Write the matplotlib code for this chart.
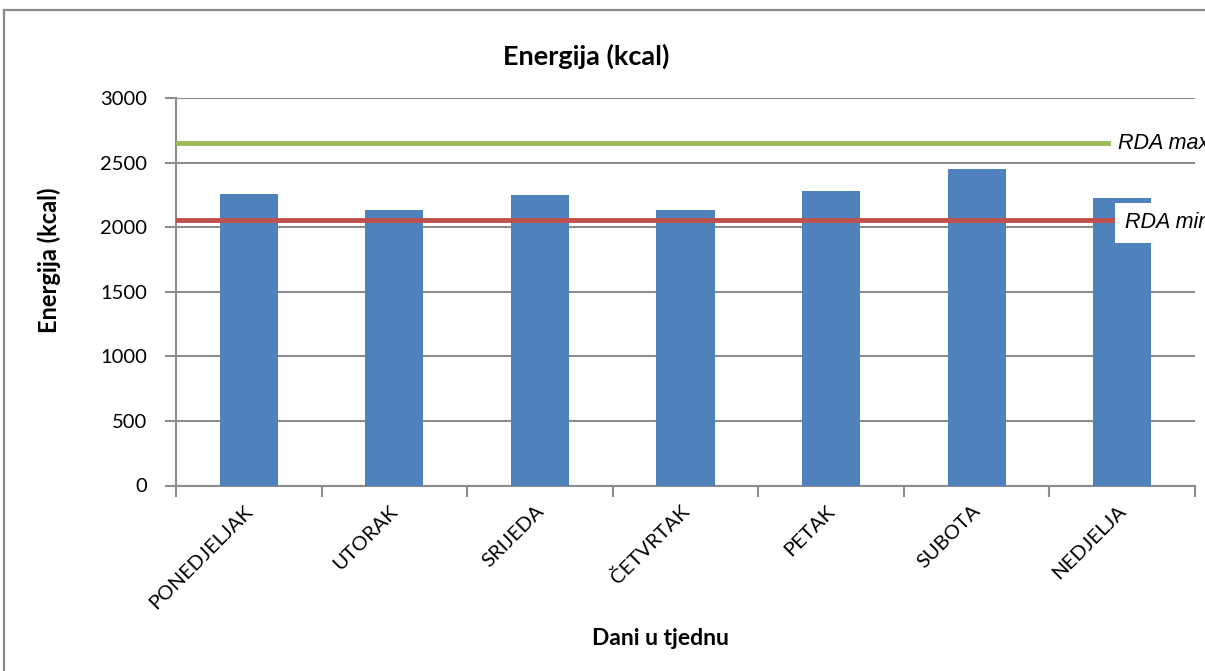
import matplotlib
matplotlib.use("Agg")
import matplotlib.pyplot as plt
from matplotlib.lines import Line2D
from matplotlib.ticker import FixedLocator, NullFormatter
from matplotlib.transforms import ScaledTranslation

days = ["PONEDJELJAK", "UTORAK", "SRIJEDA", "ČETVRTAK", "PETAK", "SUBOTA", "NEDJELJA"]
energy = [2262, 2136, 2250, 2136, 2278, 2456, 2231]
rda_max = 2653
rda_min = 2056
y_ticks = [0, 500, 1000, 1500, 2000, 2500, 3000]

BAR = "#4F81BD"
GREEN = "#9BBB59"
RED = "#C0504D"
GRID = "#8C8C8C"
FONT = "Lato"
W, H = 1205, 671

fig = plt.figure(figsize=(W / 100, H / 100), dpi=100)
fig.patch.set_facecolor("white")

# outer chart frame: only its top and left edges fall inside the image
fig.add_artist(Line2D([4 / W, 1.0], [1 - 10 / H, 1 - 10 / H], transform=fig.transFigure,
                      color="#8A8A8A", linewidth=1.6))
fig.add_artist(Line2D([4 / W, 4 / W], [0.0, 1 - 10 / H], transform=fig.transFigure,
                      color="#8A8A8A", linewidth=1.6))

ax = fig.add_axes([176 / W, (H - 485.5) / H, (1195 - 176) / W, (485.5 - 98.3) / H])

x = list(range(len(days)))
ax.bar(x, energy, width=0.4, color=BAR, zorder=3)

ax.set_xlim(-0.5, len(days) - 0.5)
ax.set_ylim(0, 3000)
ax.set_yticks(y_ticks)
ax.set_yticklabels([str(v) for v in y_ticks], fontfamily=FONT, fontsize=14.5)
ax.yaxis.grid(True, color=GRID, linewidth=1.5, zorder=1)
ax.set_axisbelow(True)

ax.set_xticks(x)
ax.set_xticklabels(days, rotation=45, ha="right", va="top", rotation_mode="anchor",
                   fontfamily=FONT, fontsize=14.6)
ax.tick_params(axis="x", which="major", length=0, pad=12)
shift = ScaledTranslation(-5 / 100, 0, fig.dpi_scale_trans)
for lbl in ax.get_xticklabels():
    lbl.set_transform(lbl.get_transform() + shift)
ax.xaxis.set_minor_locator(FixedLocator([i - 0.5 for i in range(len(days) + 1)]))
ax.xaxis.set_minor_formatter(NullFormatter())
ax.tick_params(axis="x", which="minor", length=8, width=1.5, color=GRID)
ax.tick_params(axis="y", length=8, width=1.5, color=GRID, pad=13)

for side in ("top", "right"):
    ax.spines[side].set_visible(False)
for side in ("left", "bottom"):
    ax.spines[side].set_color(GRID)
    ax.spines[side].set_linewidth(1.5)

ax.axhline(rda_max, color=GREEN, linewidth=3.5, zorder=4)
ax.axhline(rda_min, color=RED, linewidth=3.5, zorder=4)

ax.text(5.97, rda_max, "RDA max", fontfamily="Liberation Sans", style="italic",
        fontsize=15.5, va="center", ha="left", zorder=6, clip_on=False,
        bbox=dict(facecolor="white", edgecolor="none", boxstyle="square,pad=0.3"))
ax.text(6.02, rda_min - 22, "RDA min", fontfamily="Liberation Sans", style="italic",
        fontsize=15.5, va="center", ha="left", zorder=6, clip_on=False,
        bbox=dict(facecolor="white", edgecolor="none", boxstyle="square,pad=0.45"))

fig.text(586 / W, 1 - 65 / H, "Energija (kcal)", fontfamily=FONT, fontweight="bold",
         fontsize=19.5, ha="center", va="baseline")
fig.text(49 / W, 1 - 260 / H, "Energija (kcal)", fontfamily=FONT, fontweight="bold",
         fontsize=17, rotation=90, ha="center", va="center")
fig.text(660 / W, 1 - 645 / H, "Dani u tjednu", fontfamily=FONT, fontweight="bold",
         fontsize=16.5, ha="center", va="baseline")

fig.savefig("out.png", dpi=100, facecolor="white")
